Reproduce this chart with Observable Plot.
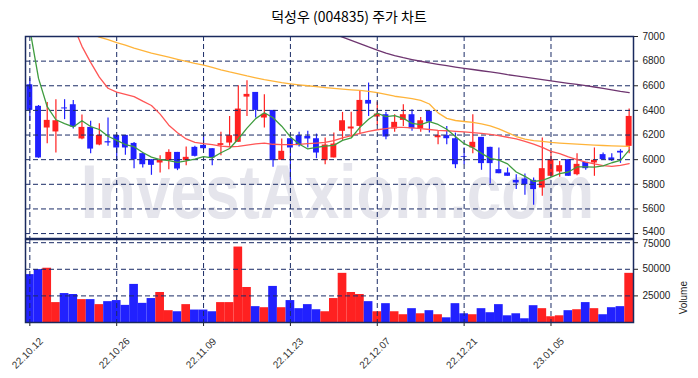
<!DOCTYPE html>
<html><head><meta charset="utf-8">
<script src="https://cdn.jsdelivr.net/npm/d3@7"></script>
<script src="https://cdn.jsdelivr.net/npm/@observablehq/plot@0.6"></script>
<style>
body{margin:0;background:#fff;}
#wrap{position:relative;width:698px;height:378px;overflow:hidden;background:#fff;}
#title{position:absolute;left:0;top:6px;width:698px;text-align:center;font-family:"Noto Sans CJK KR",sans-serif;font-size:14px;color:#000;}
#price,#vol{position:absolute;left:0;}
#price{top:0;}
#vol{top:238px;}
</style></head><body>
<div id="wrap"><div id="price"></div><div id="vol"></div><div id="title">덕성우 (004835) 주가 차트</div></div>
<script>
const dates = ["22.10.12","22.10.13","22.10.14","22.10.17","22.10.18","22.10.19","22.10.20","22.10.21","22.10.24","22.10.25",
"22.10.26","22.10.27","22.10.28","22.10.31","22.11.01","22.11.02","22.11.03","22.11.04","22.11.07","22.11.08",
"22.11.09","22.11.10","22.11.11","22.11.14","22.11.15","22.11.16","22.11.17","22.11.18","22.11.21","22.11.22",
"22.11.23","22.11.24","22.11.25","22.11.28","22.11.29","22.11.30","22.12.01","22.12.02","22.12.05","22.12.06",
"22.12.07","22.12.08","22.12.09","22.12.12","22.12.13","22.12.14","22.12.15","22.12.16","22.12.19","22.12.20",
"22.12.21","22.12.22","22.12.23","22.12.26","22.12.27","22.12.28","22.12.29","23.01.02","23.01.03","23.01.04",
"23.01.05","23.01.06","23.01.09","23.01.10","23.01.11","23.01.12","23.01.13","23.01.16","23.01.17","23.01.18"];
const open = [6608,6433,6257,6225,6420,6446,6168,6262,6119,6146,6197,6197,6132,6049,6000,5973,5992,6059,5992,6100,
6116,6089,6116,6135,6141,6508,6546,6338,6400,5995,6170,6195,6189,6170,5992,6014,6230,6249,6270,6481,
6346,6365,6249,6319,6365,6251,6392,6178,6195,6170,6025,6095,6181,6100,5919,5892,5832,5843,5832,5770,
5865,5900,6000,5878,5978,5973,6041,6014,6068,6108];
const close = [6400,6014,6319,6316,6412,6265,6262,6086,6197,6136,6095,6095,6000,5959,5954,5995,6059,5924,6019,6027,
6089,6014,6130,6195,6411,6530,6400,6368,5992,6068,6095,6114,6168,6054,6119,6127,6316,6265,6481,6451,
6370,6184,6303,6365,6251,6316,6305,6195,6170,5959,6019,6141,5968,5968,5886,5865,5811,5797,5757,5927,
6000,5951,5865,5962,5927,5995,6000,5992,6054,6351];
const high = [6662,6440,6465,6487,6487,6481,6362,6311,6292,6338,6197,6197,6140,6054,6000,6032,6081,6059,6103,6108,
6195,6089,6222,6351,6600,6641,6546,6527,6400,6168,6170,6222,6230,6208,6176,6216,6384,6384,6562,6622,
6468,6384,6365,6446,6405,6343,6392,6230,6270,6216,6095,6365,6181,6100,6095,5932,5878,5884,5851,6176,
6068,5986,6000,6049,5978,6095,6054,6049,6081,6411];
const low = [6311,6011,6130,6054,6325,6249,6162,6049,6114,6108,6000,6035,5927,5932,5873,5892,5919,5911,5951,6022,
6080,5951,6032,6108,6141,6351,6338,6257,5938,5995,5832,6103,6095,6008,5959,6014,6157,6181,6203,6351,
6276,6162,6222,6270,6230,6222,6216,6122,6122,5927,5959,6049,5914,5803,5886,5865,5757,5711,5630,5703,
5865,5857,5865,5870,5914,5865,5995,5986,5970,6049];
const volume = [45000,49700,51000,18700,27200,26300,21500,21500,16800,19600,20600,16100,35800,18000,22500,28200,11100,10100,16800,11700,
11700,10100,18700,18700,70900,32900,14900,13900,33900,13900,20600,13000,16800,12000,10100,22500,46200,28200,26300,19600,
10100,17700,10100,7300,13000,8200,11100,7300,4400,17700,8200,7300,13000,9200,16800,6300,8200,3500,15800,13000,
5400,6300,11100,12000,18700,13000,7300,13900,14900,46200];
const ma5 = [7060,6660,6430,6324,6293,6266,6316,6269,6245,6190,6156,6123,6105,6058,6021,6001,5993,5978,5990,6005,
6024,6015,6056,6091,6168,6256,6333,6381,6340,6272,6185,6127,6087,6100,6110,6116,6157,6176,6262,6328,
6377,6350,6358,6335,6295,6284,6308,6286,6247,6189,6130,6097,6051,6011,5996,5966,5900,5865,5823,5831,
5858,5886,5900,5941,5941,5940,5950,5975,5994,6078];
const ma20 = [null,null,null,null,null,7090,6920,6790,6670,6580,6548,6530,6512,6475,6440,6370,6280,6218,6168,6141,
6130,6122,6110,6105,6108,6118,6128,6135,6125,6122,6122,6124,6130,6135,6141,6154,6176,6195,6214,6230,
6243,6252,6262,6262,6258,6252,6245,6238,6235,6230,6226,6220,6213,6205,6196,6182,6168,6149,6127,6100,
6068,6049,6022,6000,5981,5965,5951,5946,5954,5968];
const ma60 = [null,null,null,null,null,null,null,7025,6995,6975,6950,6930,6905,6885,6865,6848,6832,6815,6798,6782,
6768,6750,6730,6712,6697,6680,6665,6650,6637,6625,6616,6608,6600,6593,6585,6578,6572,6567,6562,6555,
6545,6530,6515,6505,6495,6481,6452,6380,6335,6318,6310,6303,6290,6275,6250,6220,6188,6166,6155,6148,
6140,6135,6130,6126,6122,6118,6115,6112,6110,6108];
const ma120 = [null,null,null,null,null,null,null,null,null,null,null,null,null,null,null,null,null,null,null,null,
null,null,null,null,null,null,null,null,null,null,null,null,null,null,null,7020,6995,6968,6942,6915,
6890,6865,6845,6828,6813,6799,6786,6774,6763,6752,6742,6732,6722,6712,6702,6690,6680,6670,6660,6650,
6640,6630,6620,6611,6601,6590,6579,6567,6555,6545];
const priceTicks = [5400,5600,5800,6000,6200,6400,6600,6800,7000];
const volumeTicks = [25000,50000,75000];
const xTicks = ["22.10.12","22.10.26","22.11.09","22.11.23","22.12.07","22.12.21","23.01.05"];

const UP = "#ff2121", DOWN = "#2121ff", NAVY = "#1b2c66", FRAME = "#1a2a5e";
const FONT = "'Liberation Sans', Arial, sans-serif";
const data = dates.map((d, i) => ({date: d, open: open[i], close: close[i], high: high[i], low: low[i],
  volume: volume[i], ma5: ma5[i], ma20: ma20[i], ma60: ma60[i], ma120: ma120[i]}));
const col = d => d.close >= d.open ? UP : DOWN;
const style = {fontFamily: FONT, fontSize: "10px", color: "#222", background: "transparent", overflow: "visible"};
const vgrid = () => Plot.ruleX(xTicks, {stroke: NAVY, strokeDasharray: "5,3", strokeWidth: 1});

const pricePlot = Plot.plot({
  width: 698, height: 239, marginLeft: 25, marginRight: 65, marginTop: 36, marginBottom: 1,
  style,
  color: {type: "identity"},
  x: {type: "band", domain: dates, padding: 0, axis: null},
  y: {domain: [5360, 7000], axis: "right", ticks: priceTicks, tickSize: 4, tickPadding: 5, label: null, tickFormat: d3.format("d")},
  marks: [
    Plot.text(["InvestAxiom.com"], {frameAnchor: "bottom", dx: 8, dy: -21, lineAnchor: "bottom", fontSize: 62, fontWeight: "bold", fill: "#e5e5ec", fontFamily: FONT}),
    Plot.ruleX(data, {x: "date", y1: "low", y2: "high", stroke: col, strokeWidth: 1.2}),
    Plot.barY(data, {x: "date", y1: "open", y2: "close", fill: col, insetLeft: 1.4, insetRight: 1.4}),
    Plot.ruleY(priceTicks, {stroke: NAVY, strokeDasharray: "5,3", strokeWidth: 1}),
    vgrid(),
    Plot.line(data, {x: "date", y: "ma120", stroke: "#6e3570", strokeWidth: 1.3, clip: true}),
    Plot.line(data, {x: "date", y: "ma60", stroke: "#ffb43a", strokeWidth: 1.3, clip: true}),
    Plot.line(data, {x: "date", y: "ma20", stroke: "#ff5555", strokeWidth: 1.3, clip: true}),
    Plot.line(data, {x: "date", y: "ma5", stroke: "#3f9c3f", strokeWidth: 1.3, clip: true}),
    Plot.frame({stroke: FRAME, strokeWidth: 1.5})
  ]
});
document.getElementById("price").appendChild(pricePlot);
// stretch the watermark vertically around its baseline
const wm = [...pricePlot.querySelectorAll("text")].find(t => t.textContent === "InvestAxiom.com");
if (wm) {
  const x = wm.getAttribute("x"), y = wm.getAttribute("y");
  const tr = wm.getAttribute("transform") || "";
  if (x != null || y != null) {
    wm.removeAttribute("x"); wm.removeAttribute("y");
    wm.setAttribute("transform", `${tr} translate(${x || 0},${y || 0}) scale(1,1.24)`);
  } else {
    wm.setAttribute("transform", `${tr} scale(1,1.24)`);
  }
}

const volPlot = Plot.plot({
  width: 698, height: 140, marginLeft: 25, marginRight: 65, marginTop: 1, marginBottom: 56,
  style,
  color: {type: "identity"},
  x: {type: "band", domain: dates, padding: 0, ticks: xTicks, tickSize: 4, tickFormat: () => "", label: null},
  y: {domain: [0, 78000], axis: "right", ticks: volumeTicks, tickSize: 4, tickPadding: 5, label: null, tickFormat: d3.format("d")},
  marks: [
    Plot.barY(data, {x: "date", y: "volume", fill: col}),
    Plot.ruleY(volumeTicks, {stroke: NAVY, strokeDasharray: "5,3", strokeWidth: 1}),
    vgrid(),
    Plot.frame({stroke: FRAME, strokeWidth: 1.5}),
    Plot.text(xTicks, {x: d => d, frameAnchor: "bottom", dy: 33, rotate: -45, textAnchor: "middle", fontSize: 10, fill: "#333"}),
    Plot.text(["Volume"], {frameAnchor: "right", dx: 50, rotate: -90, fontSize: 10, fill: "#222"})
  ]
});
document.getElementById("vol").appendChild(volPlot);

// the adjacent 5400 / 75000 labels sit very close at the panel joint: nudge them apart slightly
const nudge = (svg, label, dy) => svg.querySelectorAll("text").forEach(t => {
  if (t.textContent === label) t.setAttribute("transform", `${t.getAttribute("transform") || ""} translate(0,${dy})`);
});
nudge(pricePlot, "5400", -1.5);
nudge(volPlot, "75000", 1.5);
</script>
</body></html>
